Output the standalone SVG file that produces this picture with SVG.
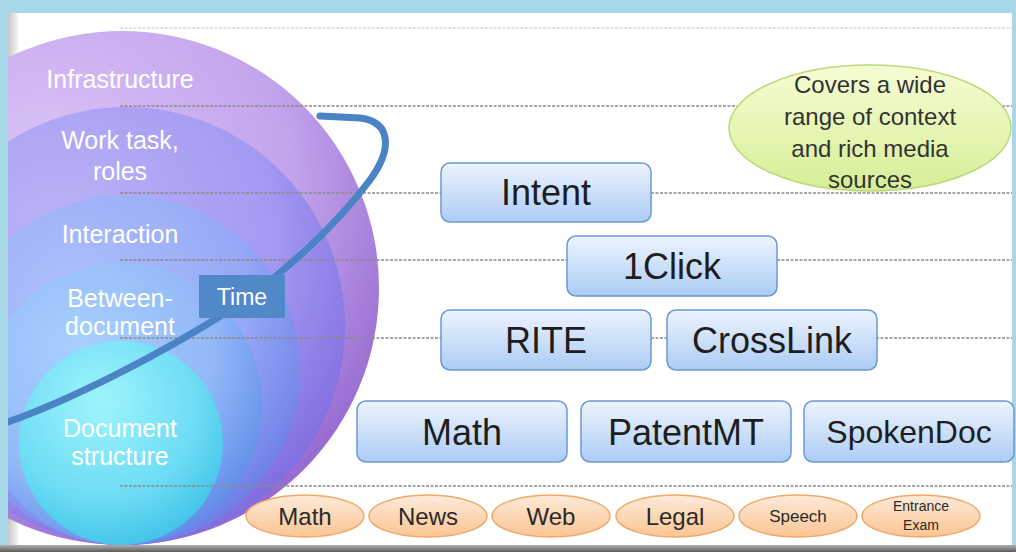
<svg xmlns="http://www.w3.org/2000/svg" width="1016" height="552" viewBox="0 0 1016 552">
<defs>
<style>
.lbl{font-family:"Liberation Sans",Arial,sans-serif;fill:#ffffff;font-size:25px;text-anchor:middle}
.box{stroke:#6c98d4;stroke-width:1.5;fill:url(#gBox)}
.btxt{font-family:"Liberation Sans",Arial,sans-serif;fill:#1e1e1e;font-size:36px;text-anchor:middle}
.oval{stroke:#f0a868;stroke-width:1.5;fill:url(#gOr)}
.otxt{font-family:"Liberation Sans",Arial,sans-serif;fill:#2a2a2a;font-size:24px;text-anchor:middle}
.gtxt{font-family:"Liberation Sans",Arial,sans-serif;fill:#333333;font-size:24px;text-anchor:middle}
.dash{stroke:#8a8a8a;stroke-width:1.5;stroke-dasharray:3 1.5;fill:none}
</style>
<linearGradient id="gBox" x1="0" y1="0" x2="0" y2="1"><stop offset="0" stop-color="#edf4fe"/><stop offset="1" stop-color="#acccf5"/></linearGradient>
<linearGradient id="gOr" x1="0" y1="0" x2="0" y2="1"><stop offset="0" stop-color="#fdeada"/><stop offset="1" stop-color="#fbc594"/></linearGradient>
<linearGradient id="gGr" x1="0" y1="0" x2="0" y2="1"><stop offset="0" stop-color="#f6fdd4"/><stop offset="1" stop-color="#d6ee96"/></linearGradient>
<radialGradient id="g1" cx="0.35" cy="0.3" r="0.8"><stop offset="0" stop-color="#dcc6f8"/><stop offset="0.6" stop-color="#c2a4ec"/><stop offset="1" stop-color="#8e60cc"/></radialGradient>
<radialGradient id="g2" cx="0.35" cy="0.3" r="0.8"><stop offset="0" stop-color="#bcb4f8"/><stop offset="0.6" stop-color="#a49af2"/><stop offset="1" stop-color="#7a66dc"/></radialGradient>
<radialGradient id="g3" cx="0.35" cy="0.3" r="0.8"><stop offset="0" stop-color="#aec0fb"/><stop offset="0.6" stop-color="#98aaf6"/><stop offset="1" stop-color="#6678e4"/></radialGradient>
<radialGradient id="g4" cx="0.35" cy="0.3" r="0.8"><stop offset="0" stop-color="#a8d0fd"/><stop offset="0.6" stop-color="#92b8f8"/><stop offset="1" stop-color="#5a86e4"/></radialGradient>
<radialGradient id="g5" cx="0.4" cy="0.3" r="0.8"><stop offset="0" stop-color="#a0f4fd"/><stop offset="0.6" stop-color="#6cdcf4"/><stop offset="1" stop-color="#36bce6"/></radialGradient>
<linearGradient id="gBot" x1="0" y1="0" x2="0" y2="1"><stop offset="0" stop-color="#b0b0b0"/><stop offset="1" stop-color="#5c5c5c"/></linearGradient>
<linearGradient id="gBev" x1="0" y1="0" x2="1" y2="0"><stop offset="0" stop-color="#c8c8c8"/><stop offset="1" stop-color="#f4f4f4"/></linearGradient>
<clipPath id="slide"><rect x="8" y="13" width="1004" height="532"/></clipPath>
</defs>

<!-- slide frame -->
<rect x="0" y="0" width="1016" height="552" fill="#a6d8e8"/>
<rect x="8" y="13" width="1004" height="532" fill="#ffffff"/>
<rect x="8" y="13" width="10" height="532" fill="url(#gBev)"/>
<rect x="0" y="545" width="1016" height="7" fill="url(#gBot)"/>

<!-- nested context circles -->
<g clip-path="url(#slide)">
<g id="infrastructure"><circle cx="122" cy="288" r="257" fill="url(#g1)"/></g>
<g id="worktask"><circle cx="126" cy="326" r="219" fill="url(#g2)"/></g>
<g id="interaction"><circle cx="125" cy="370" r="175" fill="url(#g3)"/></g>
<g id="betweendoc"><circle cx="121" cy="404" r="141" fill="url(#g4)"/></g>
<g id="docstructure"><circle cx="121" cy="443" r="102" fill="url(#g5)"/></g>
</g>

<!-- dashed level lines -->
<g id="levels">
<line x1="120" y1="28" x2="1012" y2="28" class="dash" opacity="0.35"/>
<line x1="120" y1="106" x2="1012" y2="106" class="dash"/>
<line x1="120" y1="193" x2="1012" y2="193" class="dash"/>
<line x1="120" y1="260" x2="1012" y2="260" class="dash"/>
<line x1="120" y1="338" x2="1012" y2="338" class="dash"/>
<line x1="120" y1="486" x2="1012" y2="486" class="dash"/>
</g>

<!-- circle labels -->
<g id="circle-labels">
<text class="lbl" x="120" y="88">Infrastructure</text>
<text class="lbl" x="120" y="149">Work task,</text>
<text class="lbl" x="120" y="180">roles</text>
<text class="lbl" x="120" y="243">Interaction</text>
<text class="lbl" x="120" y="307">Between-</text>
<text class="lbl" x="120" y="335">document</text>
<text class="lbl" x="120" y="437">Document</text>
<text class="lbl" x="120" y="465">structure</text>
</g>

<!-- time curve -->
<g id="connectors">
<path d="M 8 422 C 70 400 160 355 230 310 C 290 270 340 220 370 180 C 392 150 392 122 360 118 L 320 116" fill="none" stroke="#4a84c4" stroke-width="7" stroke-linecap="round" clip-path="url(#slide)"/>
</g>
<g id="time">
<rect x="199" y="275" width="86" height="43" fill="#5088c8"/>
<text x="242" y="305" font-family="'Liberation Sans',Arial,sans-serif" font-size="23" fill="#ffffff" text-anchor="middle">Time</text>
</g>

<!-- green note -->
<g id="note">
<ellipse cx="870" cy="128" rx="141" ry="63" fill="url(#gGr)" stroke="#bcd87a" stroke-width="1.5"/>
<text class="gtxt" x="870" y="93">Covers a wide</text>
<text class="gtxt" x="870" y="125">range of context</text>
<text class="gtxt" x="870" y="157">and rich media</text>
<text class="gtxt" x="870" y="188">sources</text>
</g>

<!-- task boxes -->
<g id="intent"><rect class="box" x="441" y="163" width="210" height="59" rx="9"/><text class="btxt" x="546" y="205">Intent</text></g>
<g id="oneclick"><rect class="box" x="567" y="236" width="210" height="60" rx="9"/><text class="btxt" x="672" y="279">1Click</text></g>
<g id="rite"><rect class="box" x="441" y="310" width="210" height="60" rx="9"/><text class="btxt" x="546" y="353">RITE</text></g>
<g id="crosslink"><rect class="box" x="667" y="310" width="210" height="60" rx="9"/><text class="btxt" x="772" y="353">CrossLink</text></g>
<g id="math"><rect class="box" x="357" y="401" width="210" height="61" rx="9"/><text class="btxt" x="462" y="445">Math</text></g>
<g id="patentmt"><rect class="box" x="581" y="401" width="210" height="61" rx="9"/><text class="btxt" x="686" y="445">PatentMT</text></g>
<g id="spokendoc"><rect class="box" x="804" y="401" width="210" height="61" rx="9"/><text class="btxt" x="909" y="443" style="font-size:32px">SpokenDoc</text></g>

<!-- media ovals -->
<g id="m-math"><ellipse class="oval" cx="305" cy="516" rx="59" ry="21"/><text class="otxt" x="305" y="525">Math</text></g>
<g id="m-news"><ellipse class="oval" cx="428" cy="516" rx="59" ry="21"/><text class="otxt" x="428" y="525">News</text></g>
<g id="m-web"><ellipse class="oval" cx="551" cy="516" rx="59" ry="21"/><text class="otxt" x="551" y="525">Web</text></g>
<g id="m-legal"><ellipse class="oval" cx="675" cy="516" rx="59" ry="21"/><text class="otxt" x="675" y="525">Legal</text></g>
<g id="m-speech"><ellipse class="oval" cx="798" cy="516" rx="59" ry="21"/><text class="otxt" x="798" y="522" style="font-size:17px">Speech</text></g>
<g id="m-exam"><ellipse class="oval" cx="921" cy="516" rx="59" ry="21"/><text class="otxt" x="921" y="511" style="font-size:14px">Entrance</text><text class="otxt" x="921" y="530" style="font-size:14px">Exam</text></g>
</svg>
